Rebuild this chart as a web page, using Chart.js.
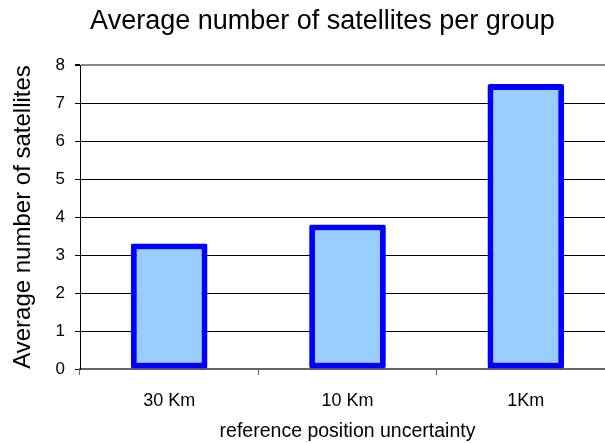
<!DOCTYPE html>
<html>
<head>
<meta charset="utf-8">
<script src="https://cdn.jsdelivr.net/npm/chart.js@4/dist/chart.umd.min.js"></script>
<style>
  html, body { margin: 0; padding: 0; background: #fff; overflow: hidden; }
  #wrap { width: 615px; height: 443px; }
</style>
</head>
<body>
<div id="wrap"><canvas id="chart" width="615" height="443"></canvas></div>
<script>
  const categories = ['30 Km', '10 Km', '1Km'];
  const avgSatellites = [3.3, 3.8, 7.5];
  const yTicks = [0, 1, 2, 3, 4, 5, 6, 7, 8];

  const fontFamily = '"Liberation Sans", Arial, sans-serif';

  new Chart(document.getElementById('chart'), {
    type: 'bar',
    data: {
      labels: categories,
      datasets: [{
        label: 'Average number of satellites',
        data: avgSatellites,
        backgroundColor: '#99ccff',
        borderColor: '#0000ff',
        borderWidth: 6,
        borderSkipped: false,
        borderRadius: 2,
        categoryPercentage: 1,
        barPercentage: 0.43,
      }],
    },
    options: {
      responsive: false,
      animation: false,
      devicePixelRatio: 1,
      // extra left padding pulls the title centre right, like the original
      layout: { padding: { left: 30, right: 0, top: 0, bottom: 0 } },
      plugins: {
        legend: { display: false },
        tooltip: { enabled: false },
        title: {
          display: true,
          text: 'Average number of satellites per group',
          color: '#000',
          font: { family: fontFamily, size: 27, weight: 'normal' },
          padding: { top: 5, bottom: 27.6 },
        },
      },
      scales: {
        x: {
          afterFit: (scale) => { scale.height = 74; },
          grid: {
            drawOnChartArea: false,
            color: '#666',
            tickLength: 6,
          },
          border: { color: '#666', width: 2 },
          ticks: {
            color: '#000',
            padding: 15,
            font: { family: fontFamily, size: 18 },
          },
          title: {
            display: true,
            text: 'reference position uncertainty',
            color: '#000',
            font: { family: fontFamily, size: 19.5 },
            padding: { top: 11, bottom: 0 },
          },
        },
        y: {
          min: 0,
          max: 8,
          afterFit: (scale) => { scale.width = 50; },
          afterBuildTicks: (scale) => {
            scale.ticks = yTicks.map((v) => ({ value: v }));
          },
          grid: {
            color: (ctx) => (ctx.tick && ctx.tick.value === 8 ? '#888' : '#000'),
            lineWidth: (ctx) => (ctx.tick && ctx.tick.value === 8 ? 2 : 1),
            tickColor: '#000',
            tickLength: 5,
          },
          border: { color: '#000', width: 1 },
          ticks: {
            color: '#000',
            padding: 10,
            font: { family: fontFamily, size: 17 },
          },
          title: {
            display: true,
            text: 'Average number of satellites',
            color: '#000',
            font: { family: fontFamily, size: 24 },
            padding: { top: -21.4, bottom: 0 },
          },
        },
      },
    },
  });
</script>
</body>
</html>
